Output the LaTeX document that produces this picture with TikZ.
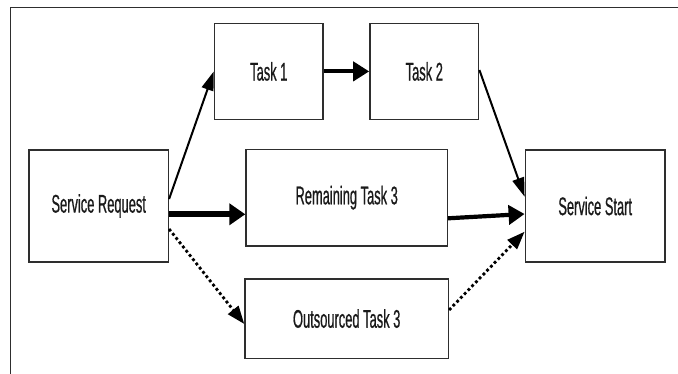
\documentclass[tikz,border=0pt]{standalone}
\usepackage{fontspec}
\setmainfont{Liberation Sans}[FakeStretch=0.505,FakeBold=0.6]
\usetikzlibrary{arrows.meta,calc}
\definecolor{ink}{HTML}{1A1A1A}
\definecolor{edge}{HTML}{2E2E2E}
\begin{document}
\begin{tikzpicture}[x=1pt,y=-1pt,
  box/.style={draw=edge,line width=1.5pt,fill=white,inner sep=0pt,
    text=ink,font=\fontsize{25.5}{30}\selectfont},
  thin/.style={line width=2pt,-{Triangle[length=19pt,width=12pt]}},
  mid/.style={line width=4.2pt,-{Triangle[length=16pt,width=19pt]}},
  heavy/.style={line width=6.3pt,-{Triangle[length=16pt,width=21pt]}},
  dotline/.style={line width=2.8pt,dash pattern=on 2.8pt off 2.6pt,
    -{Triangle[length=18pt,width=13pt]}}]
\useasboundingbox (0,0) rectangle (678,374);
\fill[white] (0,0) rectangle (678,374);
% outer frame (top and left edges)
\draw[edge,line width=1.4pt] (10.7,374) -- (10.7,7.3) -- (678,7.3);

% boxes
\node[box,minimum width=108.5pt,minimum height=96.2pt] (t1) at (268.8,71.4) {Task 1};
\node[box,minimum width=108.7pt,minimum height=96.2pt] (t2) at (424.3,71.4) {Task 2};
\node[box,minimum width=139.3pt,minimum height=112pt] (sr) at (98.7,206) {Service Request};
\node[box,minimum width=201.3pt,minimum height=96.5pt] (rt) at (346.7,197.7) {Remaining Task 3};
\node[box,minimum width=139.7pt,minimum height=112pt] (ss) at (595.2,206) {Service Start};
\node[box,minimum width=203.3pt,minimum height=79.3pt] (ot) at (346.7,318.6) {Outsourced Task 3};

% connectors
\draw[thin] ($(sr.east)+(0,-7)$) -- (t1.west);
\draw[mid] (t1.east) -- (t2.west);
\coordinate (a3) at ($(sr.east)+(0,8.3)$);
\draw[heavy] (a3) -- (a3 -| rt.west);
\draw[dotline] ($(sr.east)+(0,23)$) -- ($(ot.west)+(0,5.4)$);
\draw[thin] ($(t2.east)+(0,-1.4)$) -- ($(ss.west)+(0,-9.3)$);
\draw[mid] ($(rt.east)+(0,20.6)$) -- ($(ss.west)+(0,8)$);
\draw[dotline] ($(ot.east)+(0,-8.6)$) -- ($(ss.west)+(0,25.7)$);
\end{tikzpicture}
\end{document}
